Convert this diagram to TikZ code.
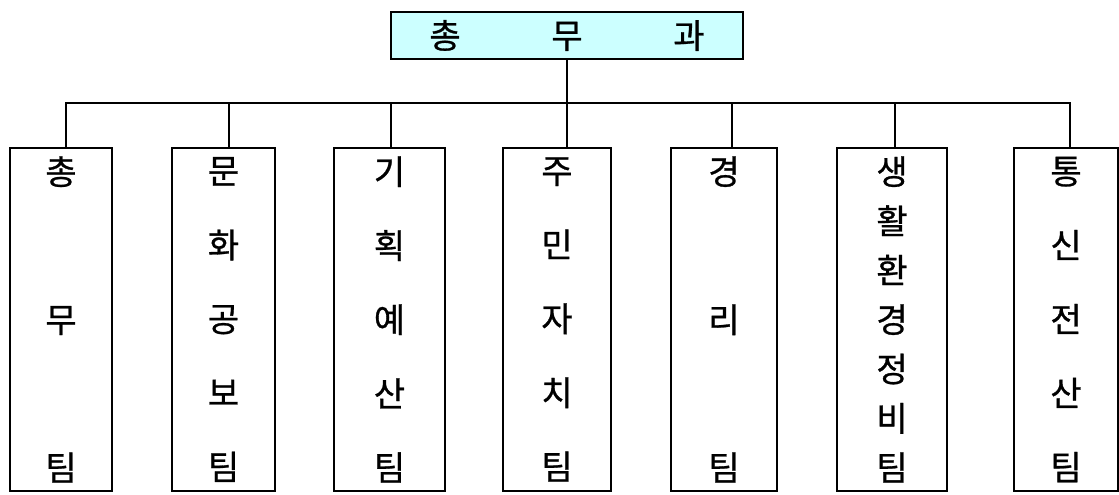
\documentclass[tikz,border=0pt]{standalone}
\usepackage{fontspec}
\usepackage{tikz}
\newfontfamily\kr{Noto Sans CJK KR}[FakeBold=0.8]
\definecolor{headcyan}{RGB}{204,255,255}

\begin{document}
\begin{tikzpicture}[x=0.75pt, y=-0.75pt, line width=2pt,
    head/.style={draw, fill=headcyan, inner sep=0pt, minimum width=264pt, minimum height=35.25pt,
        font=\kr\fontsize{25.5}{30}\selectfont},
    team/.style={draw, inner sep=0pt, minimum height=257.25pt, align=center}]
            \useasboundingbox (0,0) rectangle (1119,494);
            % Define the department
            \node[head] (head) at (567,35.5) {총\hspace{68pt}무\hspace{68pt}과};
            % Define the teams
            \foreach \x/\w/\d/\s/\txt [count=\i] in {
                61/102/5/111/{총\\무\\팀},
                223.5/103/5.5/55.5/{문\\화\\공\\보\\팀},
                389.5/111/1.5/55.5/{기\\획\\예\\산\\팀},
                557/108/9/55.5/{주\\민\\자\\치\\팀},
                724/106/8/111/{경\\리\\팀},
                892/110/3/37/{생\\활\\환\\경\\정\\비\\팀},
                1066/104/4/55.5/{통\\신\\전\\산\\팀}} {
                \node[team, minimum width=0.75pt*\w, font=\kr\fontsize{25.5}{\s}\selectfont]
                    (t\i) at (\x,319.5) {\txt};
                \coordinate (tap\i) at ([xshift=0.75pt*\d]t\i.north);
            }
            \coordinate (bus) at (566,103);
            % Draw the connectors
            \draw (head.south) -- (head.south |- t4.north);
            \draw (tap1) |- (tap7 |- bus) -- (tap7);
            \foreach \i in {2,3,5,6} {
                \draw (tap\i) -- (tap\i |- bus);
            }
        \end{tikzpicture}
\end{document}
